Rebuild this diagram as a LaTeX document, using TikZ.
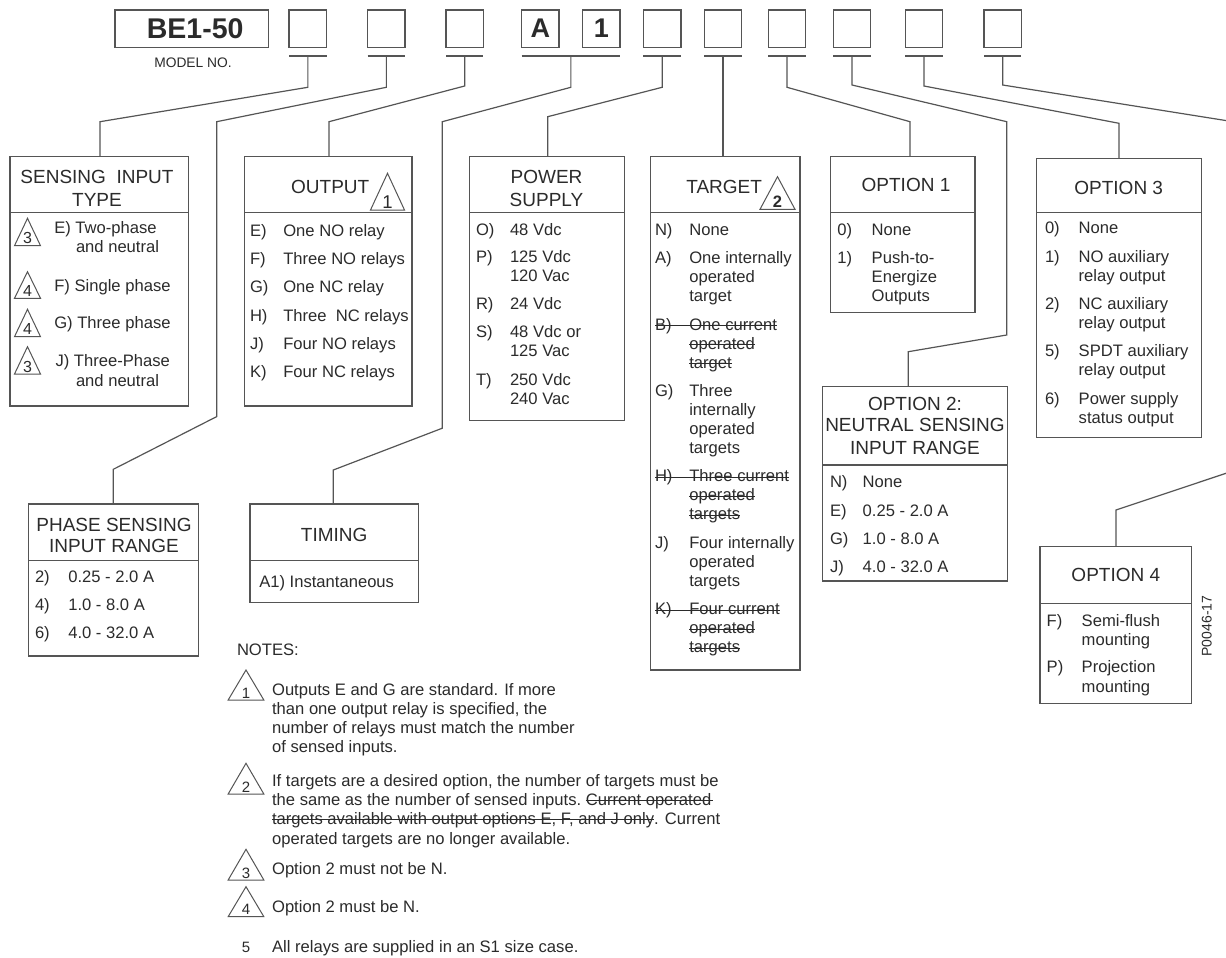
\documentclass[tikz,border=0pt]{standalone}
\usepackage{fontspec}
\setmainfont{Liberation Sans}
\usetikzlibrary{calc}
\definecolor{tc}{HTML}{2B2B2B}
\definecolor{lc}{HTML}{555555}
\tikzset{
  ln/.style={draw=lc, line width=1.2pt, line join=miter},
  thin/.style={draw=lc, line width=1pt},
  box/.style={draw=lc, line width=1.3pt, inner sep=0pt, outer sep=0pt, anchor=north west, text=tc},
  itm/.style={inner sep=0pt, outer sep=0pt, anchor=base west, text=tc, font=\fontsize{16.6}{19}\selectfont},
  hd/.style={inner sep=0pt, outer sep=0pt, anchor=base, text=tc, font=\fontsize{19}{22}\selectfont},
  strk/.style={draw=tc, line width=0.8pt},
}
\newcommand{\obox}[6]{%
  \node[box, minimum width={#4-#2}, minimum height={#5-#3}] (#1) at (#2,#3) {};
  \draw[ln] (#1.west |- 0,#6) -- (#1.east |- 0,#6);}
\newcommand{\tbox}[4]{%
  \node[box, minimum width={#3-#2}, minimum height=37.3, font=\fontsize{27}{30}\selectfont\bfseries] (#1) at (#2,10) {#4};}
\newcommand{\itx}[4]{\node[itm] (#1) at (#2,#3) {#4};}
\newcommand{\tri}[7]{%
  \draw[thin] (#2-#4/2,#3) -- (#2,#3-#5) -- (#2+#4/2,#3) -- cycle;
  \node[inner sep=0pt, anchor=base, text=tc, font=#7] (#1) at (#2,#3-1.8) {#6};}
\newcommand{\strike}[2]{\draw[strk] ([yshift=4.6pt]#1.base west) -- ([yshift=4.6pt]#2.base east);}
\begin{document}
\begin{tikzpicture}[x=1pt, y=-1pt]
\useasboundingbox (0,0) rectangle (1226,958);
\fill[white] (0,0) rectangle (1226,958);

% ---------- model number row ----------
\tbox{model}{115}{268.3}{\hspace*{7pt}\fontsize{28.5}{30}\selectfont BE1-50}
\node[inner sep=0pt, text=tc, font=\fontsize{13.8}{15}\selectfont] (mlab) at (193,63) {MODEL NO.};
\tbox{m1}{289}{326.7}{}
\tbox{m2}{367.7}{405}{}
\tbox{m3}{446}{483.3}{}
\tbox{mA}{521.7}{559}{A}
\tbox{mB}{582.7}{620}{1}
\tbox{m4}{643.3}{681}{}
\tbox{m5}{704.3}{741.7}{}
\tbox{m6}{768.3}{805.7}{}
\tbox{m7}{833.3}{870.7}{}
\tbox{m8}{905.3}{942.7}{}
\tbox{m9}{984}{1021.3}{}

\foreach \n in {m1,m2,m3,m4,m5,m6,m7,m8,m9}{
  \coordinate (b\n) at ([yshift=-8.7pt]\n.south);
  \draw[ln] (\n.west |- b\n) -- (\n.east |- b\n);
}
\coordinate (bAB) at ($(mA.south west)!0.5!(mB.south east)+(0pt,-8.7pt)$);
\draw[ln] (mA.west |- bAB) -- (mB.east |- bAB);

% ---------- option boxes ----------
\obox{sens}{10}{156.7}{188.5}{406}{212.7}
\obox{outp}{244.5}{156.7}{412}{406}{212.7}
\obox{power}{469.3}{156.7}{624.3}{420.7}{212.7}
\obox{target}{650.7}{156.7}{800}{670}{212.7}
\obox{opt1}{830.7}{156.7}{975}{312.3}{212.7}
\obox{opt3}{1036.7}{158.3}{1201.7}{437.3}{212.3}
\obox{opt2}{822.7}{386.7}{1007.3}{581}{465}
\obox{phase}{28.3}{504}{198.3}{656}{560.7}
\obox{timing}{250}{504}{418.3}{602.7}{560.7}
\obox{opt4}{1040}{546.7}{1191.7}{703.3}{603.3}

% ---------- connectors ----------
\coordinate (k1) at (100,121.7);
\draw[ln] (bm1) -- (bm1 |- 0,87.3) -- (k1) -- (k1 |- sens.north);
\coordinate (k2a) at (216.7,121.7); \coordinate (k2b) at (216.7,416.6); \coordinate (k2c) at (113.3,469.3);
\draw[ln] (bm2) -- (bm2 |- 0,87.3) -- (k2a) -- (k2b) -- (k2c) -- (k2c |- phase.north);
\coordinate (k3) at (329,121.7);
\draw[ln] (bm3) -- (bm3 |- 0,86) -- (k3) -- (k3 |- outp.north);
\coordinate (kAa) at (442.3,121.7); \coordinate (kAb) at (442.3,428.2); \coordinate (kAc) at (333.3,470);
\draw[ln] (bAB) -- (bAB |- 0,87.3) -- (kAa) -- (kAb) -- (kAc) -- (kAc |- timing.north);
\coordinate (k4) at (547.7,116.7);
\draw[ln] (bm4) -- (bm4 |- 0,87.3) -- (k4) -- (k4 |- power.north);
\draw[ln] (bm5) -- (bm5 |- target.north);
\coordinate (k6) at (910,121.7);
\draw[ln] (bm6) -- (bm6 |- 0,87.3) -- (k6) -- (k6 |- opt1.north);
\coordinate (k7a) at (1006.7,121.7); \coordinate (k7b) at (1006.7,335); \coordinate (k7c) at (908.3,351.7);
\draw[ln] (bm7) -- (bm7 |- 0,85) -- (k7a) -- (k7b) -- (k7c) -- (k7c |- opt2.north);
\coordinate (k8) at (1119,123.3);
\draw[ln] (bm8) -- (bm8 |- 0,86) -- (k8) -- (k8 |- opt3.north);
\coordinate (k9) at (1240,122.8);
\draw[ln] (bm9) -- (bm9 |- 0,85) -- (k9);
\coordinate (k10a) at (1240,468.6); \coordinate (k10b) at (1116,510);
\draw[ln] (k10a) -- (k10b) -- (k10b |- opt4.north);

% ---------- SENSING INPUT TYPE ----------
\node[hd] (sensh1) at (97,183.5) {SENSING\ \ INPUT};
\node[hd] (sensh2) at (97,206.1) {TYPE};
\tri{s3a}{27.5}{245.7}{26}{27.4}{3}{\fontsize{16}{16}\selectfont}
\tri{s4a}{27.5}{298.3}{26}{26.6}{4}{\fontsize{16}{16}\selectfont}
\tri{s4b}{27.5}{336.7}{26}{27.4}{4}{\fontsize{16}{16}\selectfont}
\tri{s3b}{27.5}{374}{26}{27.3}{3}{\fontsize{16}{16}\selectfont}
\itx{se1}{54.3}{233.3}{E) Two-phase}
\itx{se2}{76}{252.7}{and neutral}
\itx{sf1}{54.3}{291}{F) Single phase}
\itx{sg1}{54.3}{328.7}{G) Three phase}
\itx{sj1}{55.5}{366.7}{J) Three-Phase}
\itx{sj2}{76}{386}{and neutral}

% ---------- OUTPUT ----------
\node[hd, anchor=base east] (outh) at (369.3,193.4) {OUTPUT};
\tri{o1}{387.5}{210}{34}{36.7}{1}{\fontsize{18.5}{18.5}\selectfont}
\itx{oel}{250}{236}{E)}    \itx{oet}{283.3}{236}{One NO relay}
\itx{ofl}{250}{264.4}{F)}  \itx{oft}{283.3}{264.4}{Three NO relays}
\itx{ogl}{250}{292.7}{G)}  \itx{ogt}{283.3}{292.7}{One NC relay}
\itx{ohl}{250}{321}{H)}    \itx{oht}{283.3}{321}{Three\ \ NC relays}
\itx{ojl}{250}{349.4}{J)}  \itx{ojt}{283.3}{349.4}{Four NO relays}
\itx{okl}{250}{377.8}{K)}  \itx{okt}{283.3}{377.8}{Four NC relays}

% ---------- POWER SUPPLY ----------
\node[hd] (powh1) at (546.5,183.5) {POWER};
\node[hd] (powh2) at (546.5,206.1) {SUPPLY};
\itx{pol}{476}{235}{O)}   \itx{pot}{510}{235}{48 Vdc}
\itx{ppl}{476}{262.7}{P)} \itx{ppt}{510}{262.7}{125 Vdc}
\itx{ppt2}{510}{281.7}{120 Vac}
\itx{prl}{476}{309.3}{R)} \itx{prt}{510}{309.3}{24 Vdc}
\itx{psl}{476}{337.7}{S)} \itx{pst}{510}{337.7}{48 Vdc or}
\itx{pst2}{510}{356.7}{125 Vac}
\itx{ptl}{476}{385.3}{T)} \itx{ptt}{510}{385.3}{250 Vdc}
\itx{ptt2}{510}{404.3}{240 Vac}

% ---------- TARGET ----------
\node[hd, anchor=base east] (tarh) at (762,193.4) {TARGET};
\tri{t2}{777.5}{209.3}{35}{32.6}{2}{\fontsize{16.5}{16.5}\selectfont\bfseries}
\itx{tnl}{655}{235}{N)}   \itx{tnt}{689.3}{235}{None}
\itx{tal}{655}{263.3}{A)} \itx{tat}{689.3}{263.3}{One internally}
\itx{tat2}{689.3}{282.3}{operated}
\itx{tat3}{689.3}{301.3}{target}
\itx{tbl}{655}{330}{B)}   \itx{tbt}{689.3}{330}{One current}
\itx{tbt2}{689.3}{349}{operated}
\itx{tbt3}{689.3}{368}{target}
\itx{tgl}{655}{396}{G)}   \itx{tgt}{689.3}{396}{Three}
\itx{tgt2}{689.3}{415}{internally}
\itx{tgt3}{689.3}{434}{operated}
\itx{tgt4}{689.3}{453}{targets}
\itx{thl}{655}{481.5}{H)} \itx{tht}{689.3}{481.5}{Three current}
\itx{tht2}{689.3}{500.5}{operated}
\itx{tht3}{689.3}{519.5}{targets}
\itx{tjl}{655}{548}{J)}   \itx{tjt}{689.3}{548}{Four internally}
\itx{tjt2}{689.3}{567}{operated}
\itx{tjt3}{689.3}{586}{targets}
\itx{tkl}{655}{614.5}{K)} \itx{tkt}{689.3}{614.5}{Four current}
\itx{tkt2}{689.3}{633.5}{operated}
\itx{tkt3}{689.3}{652.5}{targets}
\strike{tbl}{tbt} \strike{tbt2}{tbt2} \strike{tbt3}{tbt3}
\strike{thl}{tht} \strike{tht2}{tht2} \strike{tht3}{tht3}
\strike{tkl}{tkt} \strike{tkt2}{tkt2} \strike{tkt3}{tkt3}

% ---------- OPTION 1 ----------
\node[hd] (o1h) at (906,191.8) {OPTION 1};
\itx{a0l}{837.3}{235}{0)}   \itx{a0t}{871.7}{235}{None}
\itx{a1l}{837.3}{263.3}{1)} \itx{a1t}{871.7}{263.3}{Push-to-}
\itx{a1t2}{871.7}{282.3}{Energize}
\itx{a1t3}{871.7}{301.3}{Outputs}

% ---------- OPTION 3 ----------
\node[hd] (o3h) at (1118.7,194.1) {OPTION 3};
\itx{c0l}{1045}{233.3}{0)} \itx{c0t}{1078.7}{233.3}{None}
\itx{c1l}{1045}{262}{1)}   \itx{c1t}{1078.7}{262}{NO auxiliary}
\itx{c1t2}{1078.7}{281}{relay output}
\itx{c2l}{1045}{309.3}{2)} \itx{c2t}{1078.7}{309.3}{NC auxiliary}
\itx{c2t2}{1078.7}{328.3}{relay output}
\itx{c5l}{1045}{356}{5)}   \itx{c5t}{1078.7}{356}{SPDT auxiliary}
\itx{c5t2}{1078.7}{375}{relay output}
\itx{c6l}{1045}{404.3}{6)} \itx{c6t}{1078.7}{404.3}{Power supply}
\itx{c6t2}{1078.7}{423.3}{status output}

% ---------- OPTION 2 ----------
\node[hd] (o2h1) at (915,410.1) {OPTION 2:};
\node[hd] (o2h2) at (915,431.8) {NEUTRAL SENSING};
\node[hd] (o2h3) at (915,454.5) {INPUT RANGE};
\itx{bnl}{830}{487.7}{N)} \itx{bnt}{862.7}{487.7}{None}
\itx{bel}{830}{516}{E)}   \itx{bet}{862.7}{516}{0.25 - 2.0 A}
\itx{bgl}{830}{544.3}{G)} \itx{bgt}{862.7}{544.3}{1.0 - 8.0 A}
\itx{bjl}{830}{572.7}{J)} \itx{bjt}{862.7}{572.7}{4.0 - 32.0 A}

% ---------- PHASE SENSING ----------
\node[hd] (phh1) at (114,531.8) {PHASE SENSING};
\node[hd] (phh2) at (114,552.8) {INPUT RANGE};
\itx{r2l}{35}{582}{2)}   \itx{r2t}{68.3}{582}{0.25 - 2.0 A}
\itx{r4l}{35}{610}{4)}   \itx{r4t}{68.3}{610}{1.0 - 8.0 A}
\itx{r6l}{35}{638.3}{6)} \itx{r6t}{68.3}{638.3}{4.0 - 32.0 A}

% ---------- TIMING ----------
\node[hd] (timh) at (334.2,541.8) {TIMING};
\itx{tim1}{259.3}{587.7}{A1) Instantaneous}

% ---------- OPTION 4 ----------
\node[hd] (o4h) at (1115.8,581.8) {OPTION 4};
\itx{dfl}{1046.7}{626}{F)}   \itx{dft}{1081.7}{626}{Semi-flush}
\itx{dft2}{1081.7}{645}{mounting}
\itx{dpl}{1046.7}{672.7}{P)} \itx{dpt}{1081.7}{672.7}{Projection}
\itx{dpt2}{1081.7}{692}{mounting}

\node[inner sep=0pt, rotate=90, text=tc, font=\fontsize{14}{16}\selectfont] (pid) at (1206.7,626) {P0046-17};

% ---------- NOTES ----------
\itx{notes}{237}{655.3}{NOTES:}
\tri{n1}{246}{700}{35.7}{30}{1}{\fontsize{15}{15}\selectfont}
\itx{n1a}{272.1}{695.3}{Outputs E and G are standard. If more}
\itx{n1b}{272.1}{714.3}{than one output relay is specified, the}
\itx{n1c}{272.1}{733.3}{number of relays must match the number}
\itx{n1d}{272.1}{752.7}{of sensed inputs.}
\tri{n2}{246}{794}{35.7}{30.7}{2}{\fontsize{15}{15}\selectfont}
\itx{n2a}{272.1}{786}{If targets are a desired option, the number of targets must be}
\itx{n2b}{272.1}{805.3}{the same as the number of sensed inputs.}
\node[itm] (n2bs) at ([xshift=4.6pt]n2b.base east) {Current operated};
\itx{n2c}{272.1}{824.3}{targets available with output options E, F, and J only}
\node[itm] (n2cs) at (n2c.base east) {. Current};
\itx{n2d}{272.1}{844.3}{operated targets are no longer available.}
\draw[strk] ([yshift=4.8pt]n2bs.base west) -- ([yshift=4.8pt,xshift=1.5pt]n2bs.base east);
\draw[strk] ([yshift=4.8pt]n2c.base west) -- ([yshift=4.8pt]n2c.base east);
\tri{n3}{246}{880}{35.7}{30.7}{3}{\fontsize{15}{15}\selectfont}
\itx{n3a}{272.1}{874.3}{Option 2 must not be N.}
\tri{n4}{246}{916.7}{35.7}{30}{4}{\fontsize{15}{15}\selectfont}
\itx{n4a}{272.1}{912.7}{Option 2 must be N.}
\node[inner sep=0pt, anchor=base, text=tc, font=\fontsize{15}{15}\selectfont] (n5) at (246,952.7) {5};
\itx{n5a}{272.1}{952.7}{All relays are supplied in an S1 size case.}
\end{tikzpicture}
\end{document}
